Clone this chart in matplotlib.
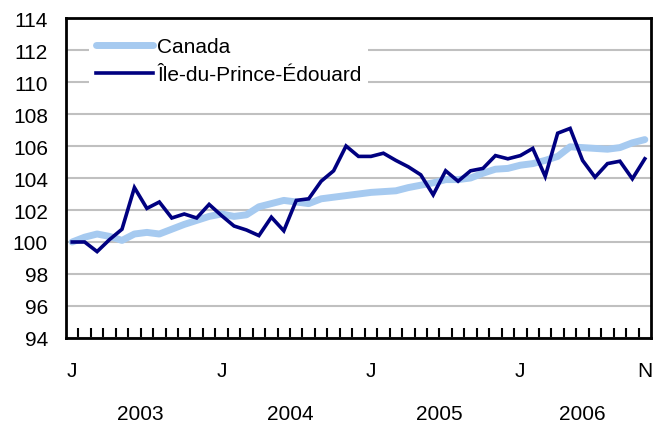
import matplotlib
matplotlib.use('Agg')
import matplotlib.pyplot as plt
import numpy as np

# Monthly index, January 2003 to November 2006
canada = [100.0, 100.3, 100.5, 100.35, 100.1, 100.5, 100.6, 100.5, 100.8, 101.1,
          101.35, 101.6, 101.75, 101.6, 101.7, 102.2, 102.4, 102.6, 102.5, 102.4,
          102.7, 102.8, 102.9, 103.0, 103.1, 103.15, 103.2, 103.4, 103.55, 103.7,
          103.9, 103.9, 104.0, 104.3, 104.55, 104.6, 104.8, 104.9, 105.1, 105.35,
          105.95, 105.9, 105.85, 105.8, 105.9, 106.2, 106.4]
pei = [100.0, 100.0, 99.4, 100.15, 100.8, 103.4, 102.1, 102.5, 101.5, 101.75,
       101.5, 102.35, 101.65, 101.0, 100.75, 100.4, 101.55, 100.7, 102.6, 102.7,
       103.8, 104.45, 106.0, 105.35, 105.35, 105.55, 105.1, 104.7, 104.2, 102.95,
       104.45, 103.8, 104.45, 104.6, 105.4, 105.2, 105.4, 105.85, 104.1, 106.8,
       107.1, 105.1, 104.05, 104.9, 105.05, 103.95, 105.2]
series_names = ['Canada', 'Île-du-Prince-Édouard']
month_labels = {0: 'J', 12: 'J', 24: 'J', 36: 'J', 46: 'N'}
years = ['2003', '2004', '2005', '2006']
year_pos = [5.5, 17.5, 29.5, 41.0]

plt.rcParams['font.family'] = ['Liberation Sans', 'DejaVu Sans']
FS = 15

fig = plt.figure(figsize=(6.65, 4.35), dpi=100)
ax = fig.add_axes([0.0992, 0.2207, 0.8798, 0.7356])

x = np.arange(len(canada))
ax.plot(x, canada, color='#a6caf0', lw=5.0, label=series_names[0], zorder=3,
        solid_joinstyle='round', solid_capstyle='round')
ax.plot(x, pei, color='#000080', lw=2.6, label=series_names[1], zorder=4,
        solid_joinstyle='miter')

ax.set_xlim(-0.5, len(canada) - 0.5)
ax.set_ylim(94, 114)
ax.set_yticks(np.arange(94, 115, 2))
ax.grid(axis='y', color='#c0c0c0', lw=1.5, zorder=1)
ax.set_axisbelow(True)
ax.tick_params(axis='y', length=0, labelsize=FS, pad=13)

# month ticks between categories, pointing inward
ax.set_xticks(np.arange(0.5, len(canada) - 0.5, 1))
ax.set_xticklabels([])
ax.tick_params(axis='x', direction='in', length=7, width=1.5, color='black')

for k, lab in month_labels.items():
    ax.text(k, 91.95, lab, ha='center', va='center', fontsize=FS)
for yp, lab in zip(year_pos, years):
    ax.text(yp, 89.25, lab, ha='center', va='center', fontsize=FS)

for s in ax.spines.values():
    s.set_linewidth(2)
    s.set_color('black')

leg = ax.legend(loc='upper left', bbox_to_anchor=(0.04, 0.96), fontsize=FS,
                frameon=True, fancybox=False, edgecolor='none', facecolor='white',
                framealpha=1, handlelength=2.75, handletextpad=0.2,
                borderpad=0.3, labelspacing=0.45, borderaxespad=0)
leg.set_zorder(5)

fig.savefig('out.png', dpi=100, facecolor='white')
